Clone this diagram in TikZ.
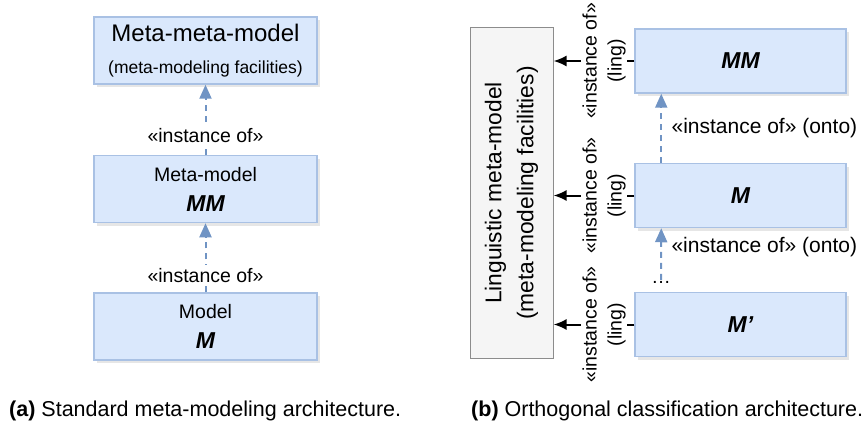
\documentclass[tikz,border=0pt]{standalone}
\usepackage{fontspec}
\setmainfont{Liberation Sans}
\usetikzlibrary{arrows.meta}
\usetikzlibrary{shadows}

\definecolor{boxfill}{HTML}{DAE8FC}
\definecolor{boxline}{HTML}{A9C1E4}
\definecolor{instline}{HTML}{7094C4}
\definecolor{lingfill}{HTML}{F5F5F5}
\definecolor{lingline}{HTML}{8C8C8C}

\newcommand{\lblfont}{\fontsize{19.5}{25}\selectfont}
\newcommand{\ontofont}{\fontsize{21}{25}\selectfont}
\newcommand{\namefont}{\fontsize{23}{30}\selectfont\bfseries\itshape}

\begin{document}
\begin{tikzpicture}
    [x=1pt, y=-1pt,
    model/.style={draw=boxline, fill=boxfill, line width=1.5pt, align=center,
      drop shadow={shadow xshift=3pt, shadow yshift=-3pt, opacity=0.2}},
    lingmodel/.style={draw=lingline, fill=lingfill, line width=1pt, align=center},
    inst/.style={draw=instline, line width=2pt, dash pattern=on 6pt off 5pt,
      -{Triangle[length=14pt, width=12pt]}},
    ling/.style={draw=black, line width=2pt, -{Latex[length=13pt, width=11pt]}},
    lbl/.style={font=\lblfont, align=center},
    caption/.style={anchor=west, font=\fontsize{21.5}{25}\selectfont, inner sep=0pt}]
  \useasboundingbox (0,0) rectangle (867,425);

  % (a) standard architecture
  \node [model, minimum width=223pt, minimum height=67pt,
    font=\fontsize{24}{32}\selectfont] (mmm) at (205.5,50.5)
    {Meta-meta-model\\{\fontsize{17.5}{21}\selectfont (meta-modeling facilities)}};
  \node [model, minimum width=223pt, minimum height=67pt,
    font=\fontsize{19.5}{30}\selectfont] (mm) at (205.5,189)
    {Meta-model\\{\namefont MM}};
  \node [model, minimum width=223pt, minimum height=67pt,
    font=\fontsize{19.5}{30}\selectfont] (m) at (205.5,326.5)
    {Model\\{\namefont M}};

  \draw [inst] (mm.north) -- node [lbl, pos=0.27, fill=white] {«instance of»} (mmm.south);
  \draw [inst] (m.north) -- node [lbl, pos=0.24, fill=white] {«instance of»} (mm.south);

  % (b) orthogonal classification
  \node [lingmodel, rotate=90, minimum width=330pt, minimum height=83pt,
    font=\fontsize{22.8}{32}\selectfont] (lmm) at (511.5,193)
    {Linguistic meta-model\\(meta-modeling facilities)};
  \node [model, minimum width=211pt, minimum height=64pt, font=\namefont] (mm2) at (740.5,61) {MM};
  \node [model, minimum width=211pt, minimum height=64pt, font=\namefont] (m2) at (740.5,195.5) {M};
  \node [model, minimum width=211pt, minimum height=64pt, font=\namefont] (m3) at (740.5,324.5) {M’};
  \node [font=\lblfont, inner sep=1pt] (dots) at (661,282) {\ldots};

  \foreach \n in {mm2, m2, m3}
    \draw [ling] (\n.west) -- node [lbl, pos=0.375, fill=white, rotate=90, inner sep=1pt]
      {«instance of»\\(ling)} (lmm.south |- \n.west);

  \draw [inst] ([xshift=27pt]m2.north west) -- node [font=\ontofont, right, xshift=6pt] {«instance of» (onto)}
    ([xshift=27pt]mm2.south west);
  \draw [inst] (dots.north) -- node [font=\ontofont, right, pos=0.64, xshift=6pt] {«instance of» (onto)}
    ([xshift=27pt]m2.south west);

  % captions
  \node [caption] (capa) at (9,411) {\textbf{(a)} Standard meta-modeling architecture.};
  \node [caption] (capb) at (471,411) {\textbf{(b)} Orthogonal classification architecture.};
\end{tikzpicture}
\end{document}
